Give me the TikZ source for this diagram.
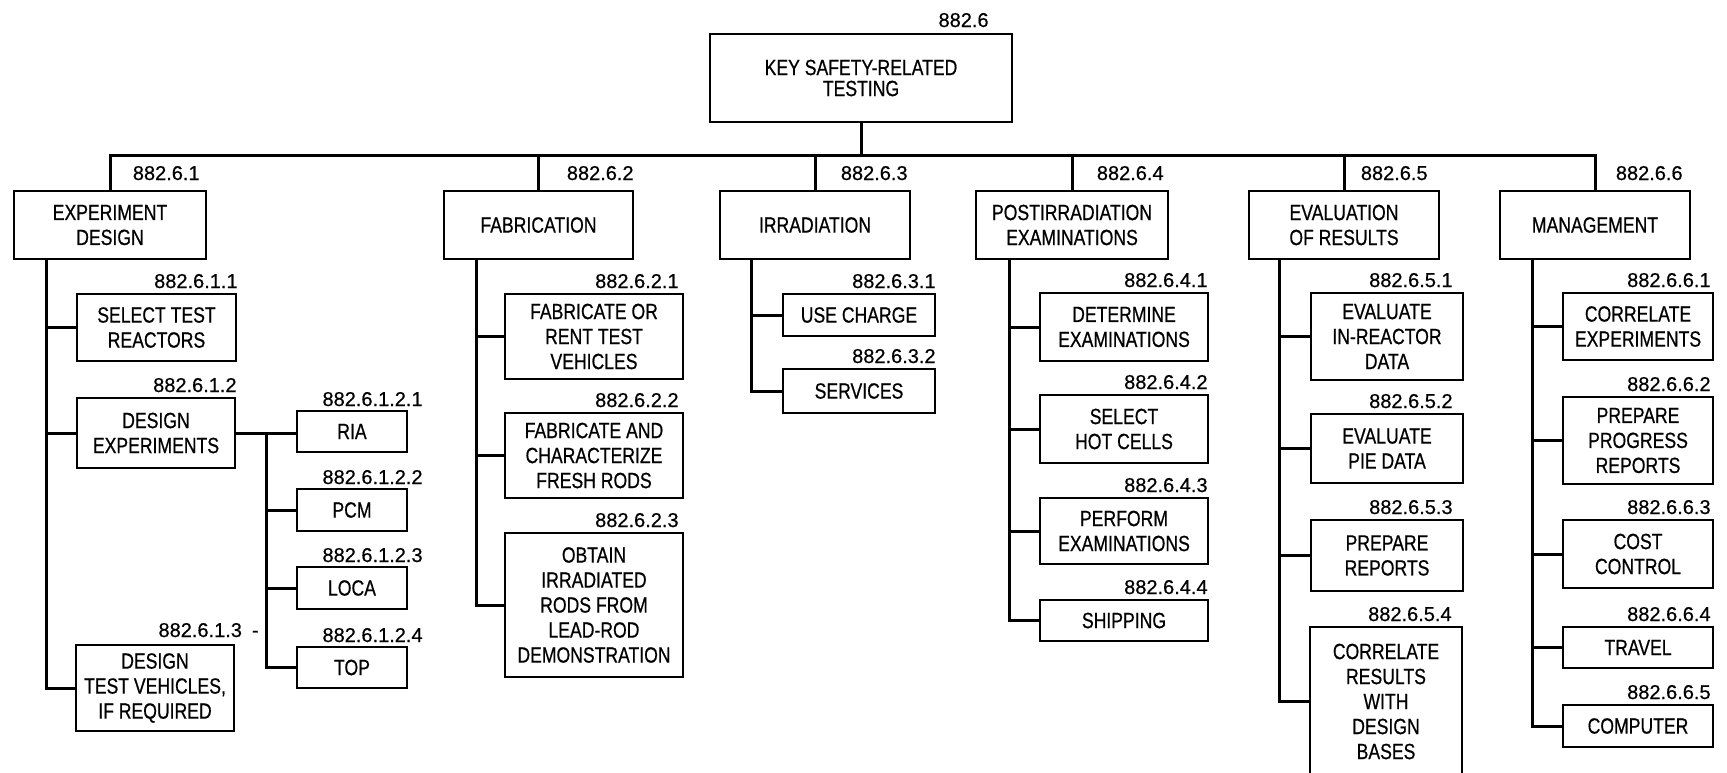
\documentclass[tikz,border=0pt]{standalone}
\usepackage{fontspec}
\setmainfont{Liberation Sans}[FakeStretch=0.8, FakeBold=0.6]
\newfontfamily\labfont{Liberation Sans}[FakeBold=0.5]
\usetikzlibrary{calc}
\tikzset{
  box/.style={draw, line width=1pt, align=center, inner sep=0pt,
    font=\fontsize{11}{12.5}\selectfont},
  lab/.style={inner sep=0pt, font=\labfont\fontsize{10}{12}\selectfont},
  conn/.style={line width=1.5pt, line cap=rect},
}
% name, x1, y1, x2, y2, text  (pixel coordinates)
\newcommand\wbox[6]{\node[box, minimum width={(#4-#2)*0.5pt}, minimum height={(#5-#3)*0.5pt}] (#1) at ({(#2+#4)/2},{(#3+#5)/2}) {#6};}
% box name, dx px, dy px (up), text
\newcommand\wlab[4]{\node[lab, anchor=base east] (#1l) at ([xshift={#2*0.5pt}, yshift={#3*0.5pt}]#1.north east) {#4};}
\begin{document}
\begin{tikzpicture}[x=0.5pt, y=-0.5pt]
\useasboundingbox (0,0) rectangle (1727,772);
% root
\node[box, minimum width=151pt, minimum height=44pt, font=\fontsize{11}{10.5}\selectfont] (root) at (861,78) {KEY SAFETY-RELATED\\TESTING};
\wlab{root}{-24}{6}{882.6}
% level 1
\wbox{ed}{14}{191}{206}{259}{EXPERIMENT\\DESIGN}
\wbox{fa}{444}{191}{633}{259}{FABRICATION}
\wbox{ir}{720}{191}{910}{259}{IRRADIATION}
\wbox{po}{976}{191}{1168}{259}{POSTIRRADIATION\\EXAMINATIONS}
\wbox{ev}{1249}{191}{1439}{259}{EVALUATION\\OF RESULTS}
\wbox{mg}{1500}{191}{1690}{259}{MANAGEMENT}
\wlab{ed}{-7}{10}{882.6.1}
\wlab{fa}{0}{10}{882.6.2}
\wlab{ir}{-3}{10}{882.6.3}
\wlab{po}{-5}{10}{882.6.4}
\wlab{ev}{-12}{10}{882.6.5}
\wlab{mg}{-8}{10}{882.6.6}
% experiment design children
\wbox{str}{77}{294}{236}{361}{SELECT TEST\\REACTORS}
\wbox{de}{77}{398}{235}{468}{DESIGN\\EXPERIMENTS}
\wbox{dtv}{76}{645}{234}{731}{DESIGN\\TEST VEHICLES,\\IF REQUIRED}
\wlab{str}{1}{5}{882.6.1.1}
\wlab{de}{1}{5}{882.6.1.2}
\wlab{dtv}{24}{7}{882.6.1.3\hspace{5pt}-}
\wbox{ria}{297}{411}{407}{452}{\raisebox{-3pt}{RIA}}
\wbox{pcm}{297}{489}{407}{531}{\raisebox{-3pt}{PCM}}
\wbox{loca}{297}{567}{407}{609}{\raisebox{-3pt}{LOCA}}
\wbox{top}{297}{647}{407}{688}{TOP}
\wlab{ria}{15}{4}{882.6.1.2.1}
\wlab{pcm}{15}{4}{882.6.1.2.2}
\wlab{loca}{15}{4}{882.6.1.2.3}
\wlab{top}{15}{4}{882.6.1.2.4}
% fabrication children
\wbox{fa1}{505}{294}{683}{379}{FABRICATE OR\\RENT TEST\\VEHICLES}
\wbox{fa2}{505}{413}{683}{498}{FABRICATE AND\\CHARACTERIZE\\FRESH RODS}
\wbox{fa3}{505}{533}{683}{677}{OBTAIN\\IRRADIATED\\RODS FROM\\LEAD-ROD\\DEMONSTRATION}
\wlab{fa1}{-5}{5}{882.6.2.1}
\wlab{fa2}{-5}{5}{882.6.2.2}
\wlab{fa3}{-5}{5}{882.6.2.3}
% irradiation children
\wbox{ir1}{783}{294}{935}{336}{USE CHARGE}
\wbox{ir2}{783}{369}{935}{413}{SERVICES}
\wlab{ir1}{0}{5}{882.6.3.1}
\wlab{ir2}{0}{5}{882.6.3.2}
% postirradiation children
\wbox{po1}{1040}{293}{1208}{361}{DETERMINE\\EXAMINATIONS}
\wbox{po2}{1040}{395}{1208}{463}{SELECT\\HOT CELLS}
\wbox{po3}{1040}{498}{1208}{564}{PERFORM\\EXAMINATIONS}
\wbox{po4}{1040}{600}{1208}{641}{SHIPPING}
\wlab{po1}{-1}{5}{882.6.4.1}
\wlab{po2}{-1}{5}{882.6.4.2}
\wlab{po3}{-1}{5}{882.6.4.3}
\wlab{po4}{-1}{5}{882.6.4.4}
% evaluation children
\wbox{ev1}{1311}{293}{1463}{380}{EVALUATE\\IN-REACTOR\\DATA}
\wbox{ev2}{1311}{414}{1463}{483}{EVALUATE\\PIE DATA}
\wbox{ev3}{1311}{520}{1463}{591}{PREPARE\\REPORTS}
\wbox{ev4}{1310}{627}{1462}{776}{CORRELATE\\RESULTS\\WITH\\DESIGN\\BASES}
\wlab{ev1}{-11}{5}{882.6.5.1}
\wlab{ev2}{-11}{5}{882.6.5.2}
\wlab{ev3}{-11}{5}{882.6.5.3}
\wlab{ev4}{-11}{5}{882.6.5.4}
% management children
\wbox{mg1}{1563}{293}{1713}{360}{CORRELATE\\EXPERIMENTS}
\wbox{mg2}{1563}{397}{1713}{484}{PREPARE\\PROGRESS\\REPORTS}
\wbox{mg3}{1563}{520}{1713}{588}{COST\\CONTROL}
\wbox{mg4}{1563}{627}{1713}{668}{TRAVEL}
\wbox{mg5}{1563}{705}{1713}{747}{COMPUTER}
\wlab{mg1}{-3}{5}{882.6.6.1}
\wlab{mg2}{-3}{5}{882.6.6.2}
\wlab{mg3}{-3}{5}{882.6.6.3}
\wlab{mg4}{-3}{5}{882.6.6.4}
\wlab{mg5}{-3}{5}{882.6.6.5}
% connectors: top level
\coordinate (bar) at (0,155);
\draw[conn] (root.south) -- (root.south |- bar);
\draw[conn] (ed.north |- bar) -- (mg.north |- bar);
\foreach \n in {ed,fa,ir,po,ev,mg} \draw[conn] (\n.north) -- (\n.north |- bar);
% experiment design
\coordinate (edv) at ($(ed.south west)+(33,0)$);
\draw[conn] (edv) |- (dtv.west);
\foreach \n in {str,de} \draw[conn] (\n.west) -- (\n.west -| edv);
\coordinate (dev) at ($(de.east)!0.5!(de.east -| ria.west)$);
\draw[conn] (de.east) -- (de.east -| ria.west);
\draw[conn] (dev) |- (top.west);
\foreach \n in {pcm,loca} \draw[conn] (\n.west) -- (\n.west -| dev);
% fabrication
\coordinate (fav) at ($(fa.south west)+(33,0)$);
\draw[conn] (fav) |- (fa3.west);
\foreach \n in {fa1,fa2} \draw[conn] (\n.west) -- (\n.west -| fav);
% irradiation
\coordinate (irv) at ($(ir.south west)+(32,0)$);
\draw[conn] (irv) |- (ir2.west);
\draw[conn] (ir1.west) -- (ir1.west -| irv);
% postirradiation
\coordinate (pov) at ($(po.south west)+(34,0)$);
\draw[conn] (pov) |- (po4.west);
\foreach \n in {po1,po2,po3} \draw[conn] (\n.west) -- (\n.west -| pov);
% evaluation
\coordinate (evv) at ($(ev.south west)+(31,0)$);
\draw[conn] (evv) |- (ev4.west);
\foreach \n in {ev1,ev2,ev3} \draw[conn] (\n.west) -- (\n.west -| evv);
% management
\coordinate (mgv) at ($(mg.south west)+(33,0)$);
\draw[conn] (mgv) |- (mg5.west);
\foreach \n in {mg1,mg2,mg3,mg4} \draw[conn] (\n.west) -- (\n.west -| mgv);
\end{tikzpicture}
\end{document}
